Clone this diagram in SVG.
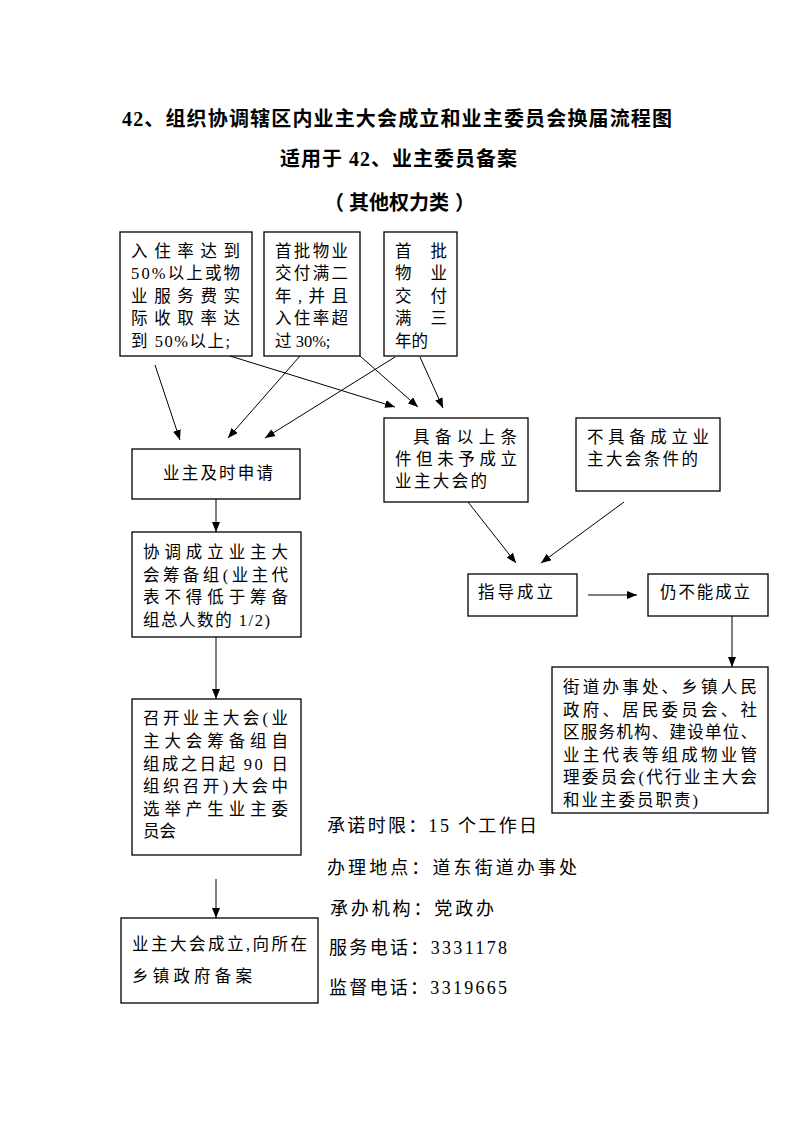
<svg xmlns="http://www.w3.org/2000/svg" width="793" height="1122" viewBox="0 0 793 1122">
<style>
text{font-family:'Liberation Serif','Noto Sans CJK SC',serif;fill:#000;}
.t{font-size:20px;font-weight:bold;}
.b{font-size:16.5px;}
.i{font-size:18px;}
rect{fill:#fff;stroke:#000;stroke-width:1.3;}
.c line{stroke:#000;stroke-width:1;marker-end:url(#ah);}
</style>
<defs>
<marker id="ah" markerUnits="userSpaceOnUse" markerWidth="11" markerHeight="9" refX="10" refY="4" orient="auto">
<path d="M0,0 L10,4 L0,8 z" fill="#000"/>
</marker>
</defs>
<rect x="0" y="0" width="793" height="1122" style="stroke:none;fill:#fff"/>
<g id="title">
<text class="t" x="122" y="126" textLength="550" lengthAdjust="spacing">42、组织协调辖区内业主大会成立和业主委员会换届流程图</text>
<text class="t" x="280" y="166" textLength="237" lengthAdjust="spacing">适用于 42、业主委员备案</text>
<text class="t" x="324" y="210">（</text>
<text class="t" x="349" y="210" textLength="100" lengthAdjust="spacing">其他权力类</text>
<text class="t" x="475" y="210" text-anchor="end">）</text>
</g>
<g id="n1">
<rect x="120" y="232" width="132" height="124"/>
<text class="b" x="131" y="257" textLength="109" lengthAdjust="spacing">入住率达到</text>
<text class="b" x="131" y="279" textLength="109" lengthAdjust="spacing">50%以上或物</text>
<text class="b" x="131" y="302" textLength="109" lengthAdjust="spacing">业服务费实</text>
<text class="b" x="131" y="324" textLength="109" lengthAdjust="spacing">际收取率达</text>
<text class="b" x="131" y="347" textLength="99" lengthAdjust="spacing">到 50%以上;</text>
</g>
<g id="n2">
<rect x="264" y="232" width="96" height="124"/>
<text class="b" x="275" y="257" textLength="73" lengthAdjust="spacing">首批物业</text>
<text class="b" x="275" y="279" textLength="73" lengthAdjust="spacing">交付满二</text>
<text class="b" x="275" y="302" textLength="73" lengthAdjust="spacing">年,并且</text>
<text class="b" x="275" y="324" textLength="73" lengthAdjust="spacing">入住率超</text>
<text class="b" x="275" y="347">过 30%;</text>
</g>
<g id="n3">
<rect x="384" y="232" width="73" height="124"/>
<text class="b" x="395" y="257" textLength="52" lengthAdjust="spacing">首批</text>
<text class="b" x="395" y="279" textLength="52" lengthAdjust="spacing">物业</text>
<text class="b" x="395" y="302" textLength="52" lengthAdjust="spacing">交付</text>
<text class="b" x="395" y="324" textLength="52" lengthAdjust="spacing">满三</text>
<text class="b" x="395" y="347">年的</text>
</g>
<g id="n4">
<rect x="132" y="449" width="168" height="50"/>
<text class="b" x="163" y="479" textLength="110" lengthAdjust="spacing">业主及时申请</text>
</g>
<g id="n5">
<rect x="384" y="418" width="144" height="84"/>
<text class="b" x="413" y="443" textLength="104" lengthAdjust="spacing">具备以上条</text>
<text class="b" x="395" y="465" textLength="122" lengthAdjust="spacing">件但未予成立</text>
<text class="b" x="395" y="487" textLength="92" lengthAdjust="spacing">业主大会的</text>
</g>
<g id="n6">
<rect x="576" y="418" width="144" height="73"/>
<text class="b" x="587" y="443" textLength="122" lengthAdjust="spacing">不具备成立业</text>
<text class="b" x="587" y="465" textLength="111" lengthAdjust="spacing">主大会条件的</text>
</g>
<g id="n7">
<rect x="468" y="574" width="109" height="42"/>
<text class="b" x="478" y="598" textLength="75" lengthAdjust="spacing">指导成立</text>
</g>
<g id="n8">
<rect x="648" y="574" width="120" height="42"/>
<text class="b" x="660" y="598" textLength="90" lengthAdjust="spacing">仍不能成立</text>
</g>
<g id="n9">
<rect x="552" y="667" width="216" height="146"/>
<text class="b" x="563" y="693" textLength="194" lengthAdjust="spacing">街道办事处、乡镇人民</text>
<text class="b" x="563" y="716" textLength="194" lengthAdjust="spacing">政府、居民委员会、社</text>
<text class="b" x="563" y="738" textLength="194" lengthAdjust="spacing">区服务机构、建设单位、</text>
<text class="b" x="563" y="761" textLength="194" lengthAdjust="spacing">业主代表等组成物业管</text>
<text class="b" x="563" y="783" textLength="194" lengthAdjust="spacing">理委员会(代行业主大会</text>
<text class="b" x="563" y="806" textLength="135" lengthAdjust="spacing">和业主委员职责)</text>
</g>
<g id="n10">
<rect x="132" y="532" width="169" height="105"/>
<text class="b" x="143" y="558" textLength="145" lengthAdjust="spacing">协调成立业主大</text>
<text class="b" x="143" y="581" textLength="145" lengthAdjust="spacing">会筹备组(业主代</text>
<text class="b" x="143" y="603" textLength="145" lengthAdjust="spacing">表不得低于筹备</text>
<text class="b" x="143" y="626" textLength="127" lengthAdjust="spacing">组总人数的 1/2)</text>
</g>
<g id="n11">
<rect x="132" y="699" width="169" height="156"/>
<text class="b" x="143" y="724" textLength="145" lengthAdjust="spacing">召开业主大会(业</text>
<text class="b" x="143" y="747" textLength="145" lengthAdjust="spacing">主大会筹备组自</text>
<text class="b" x="143" y="770" textLength="145" lengthAdjust="spacing">组成之日起 90 日</text>
<text class="b" x="143" y="792" textLength="145" lengthAdjust="spacing">组织召开)大会中</text>
<text class="b" x="143" y="815" textLength="145" lengthAdjust="spacing">选举产生业主委</text>
<text class="b" x="143" y="837">员会</text>
</g>
<g id="n12">
<rect x="121" y="918" width="197" height="85"/>
<text class="b" x="132" y="950" textLength="175" lengthAdjust="spacing">业主大会成立,向所在</text>
<text class="b" x="132" y="982" textLength="120" lengthAdjust="spacing">乡镇政府备案</text>
</g>
<g id="info">
<text class="i" x="327" y="832" textLength="210" lengthAdjust="spacing">承诺时限：15 个工作日</text>
<text class="i" x="327" y="874" textLength="250" lengthAdjust="spacing">办理地点：道东街道办事处</text>
<text class="i" x="330" y="915" textLength="164" lengthAdjust="spacing">承办机构：党政办</text>
<text class="i" x="329" y="954" textLength="178" lengthAdjust="spacing">服务电话：3331178</text>
<text class="i" x="329" y="994" textLength="178" lengthAdjust="spacing">监督电话：3319665</text>
</g>
<g id="connectors" class="c">
<line x1="155" y1="365" x2="180" y2="440"/>
<line x1="230" y1="356" x2="395" y2="407"/>
<line x1="300" y1="356" x2="228" y2="438"/>
<line x1="360" y1="356" x2="418" y2="407"/>
<line x1="395" y1="357" x2="265" y2="438"/>
<line x1="420" y1="357" x2="443" y2="408"/>
<line x1="216" y1="499" x2="216" y2="532"/>
<line x1="216" y1="637" x2="216" y2="699"/>
<line x1="216" y1="879" x2="216" y2="918"/>
<line x1="468" y1="502" x2="516" y2="563"/>
<line x1="624" y1="502" x2="541" y2="563"/>
<line x1="588" y1="595" x2="637" y2="595"/>
<line x1="732" y1="616" x2="732" y2="667"/>
</g>
</svg>
